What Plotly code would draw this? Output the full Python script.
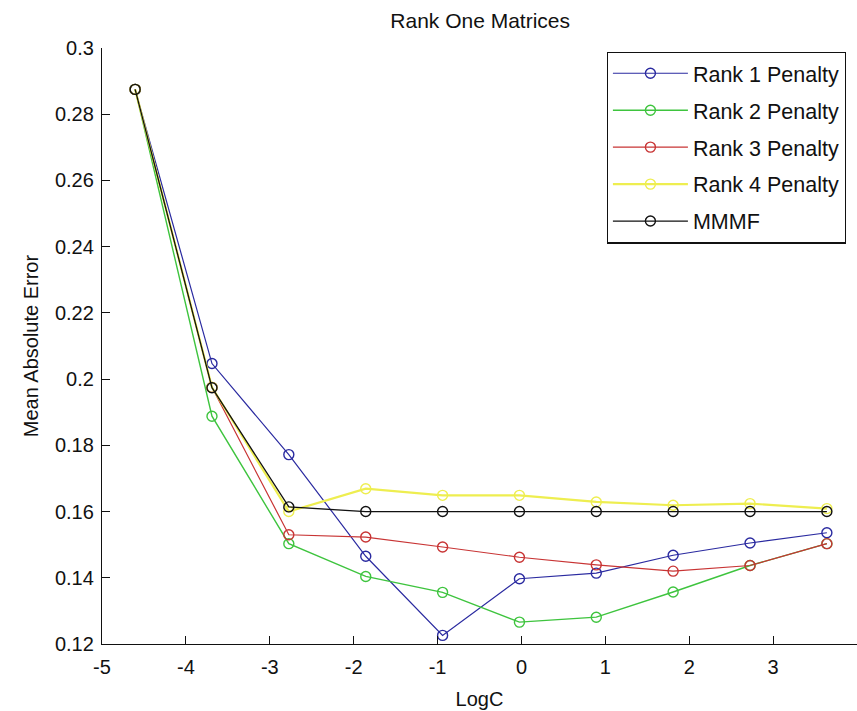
import plotly.graph_objects as go

# Regularisation sweep: log of the C parameter
log_c = [-4.605, -3.689, -2.773, -1.856, -0.940, -0.024, 0.892, 1.808, 2.725, 3.641]

# Mean absolute error per method
rank1_penalty = [0.2875, 0.2047, 0.1772, 0.1465, 0.1226, 0.1397, 0.1414, 0.1468, 0.1505, 0.1536]
rank2_penalty = [0.2875, 0.1888, 0.1503, 0.1404, 0.1356, 0.1266, 0.1281, 0.1357, 0.1437, 0.1503]
rank3_penalty = [0.2875, 0.1975, 0.1530, 0.1523, 0.1493, 0.1462, 0.1439, 0.1420, 0.1437, 0.1503]
rank4_penalty = [0.2875, 0.1975, 0.1600, 0.1669, 0.1649, 0.1649, 0.1629, 0.1619, 0.1624, 0.1609]
mmmf = [0.2875, 0.1974, 0.1614, 0.1600, 0.1600, 0.1600, 0.1600, 0.1600, 0.1600, 0.1600]

series_names = ["Rank 1 Penalty", "Rank 2 Penalty", "Rank 3 Penalty", "Rank 4 Penalty", "MMMF"]
series_values = [rank1_penalty, rank2_penalty, rank3_penalty, rank4_penalty, mmmf]
series_colors = ["#2a2aa0", "#3ec43e", "#c83434", "#eeee50", "#111111"]
series_widths = [1.2, 1.4, 1.2, 2.2, 1.3]

x_ticks = [-5, -4, -3, -2, -1, 0, 1, 2, 3, 4]
y_ticks = [0.12, 0.14, 0.16, 0.18, 0.2, 0.22, 0.24, 0.26, 0.28, 0.3]
y_tick_labels = ["0.12", "0.14", "0.16", "0.18", "0.2", "0.22", "0.24", "0.26", "0.28", "0.3"]

FONT = "Liberation Sans, Arial, Helvetica, sans-serif"

fig = go.Figure()
for name, vals, col, w in zip(series_names, series_values, series_colors, series_widths):
    fig.add_trace(go.Scatter(
        x=log_c, y=vals, name=name, mode="lines+markers",
        line=dict(color=col, width=w),
        marker=dict(symbol="circle-open", size=10, color=col, line=dict(width=1.4, color=col)),
        legendgroup=name,
    ))

fig.update_layout(
    width=857, height=711,
    margin=dict(l=102, r=0, t=48, b=67),
    paper_bgcolor="white", plot_bgcolor="white",
    font=dict(family=FONT, size=20, color="#111"),
    title=dict(text="Rank One Matrices", x=0.5603, xanchor="center", y=0.971, yanchor="middle",
               font=dict(size=21, family=FONT, color="#111")),
    showlegend=True,
    legend=dict(
        x=0.6685, y=0.994, xanchor="left", yanchor="top",
        bgcolor="white", bordercolor="#111", borderwidth=1.2,
        font=dict(size=21.5, family=FONT, color="#111"),
        itemwidth=75, tracegroupgap=6, traceorder="grouped",
    ),
)

fig.update_xaxes(
    range=[-5, 4], tickvals=x_ticks, ticktext=[str(t) for t in x_ticks],
    showgrid=False, zeroline=False, showline=True, linecolor="#111", linewidth=1.3,
    ticks="inside", ticklen=8, tickcolor="#111", tickwidth=1.2, ticklabelstandoff=5,
    title=dict(text="LogC", standoff=14, font=dict(size=20, family=FONT, color="#111")),
    automargin=False,
)
fig.update_yaxes(
    range=[0.12, 0.3], tickvals=y_ticks, ticktext=y_tick_labels,
    showgrid=False, zeroline=False, showline=True, linecolor="#111", linewidth=1.3,
    ticks="inside", ticklen=8, tickcolor="#111", tickwidth=1.2, ticklabelstandoff=3,
    title=dict(text="Mean Absolute Error", standoff=10, font=dict(size=20, family=FONT, color="#111")),
    automargin=False,
)

fig.write_html("out.html")
